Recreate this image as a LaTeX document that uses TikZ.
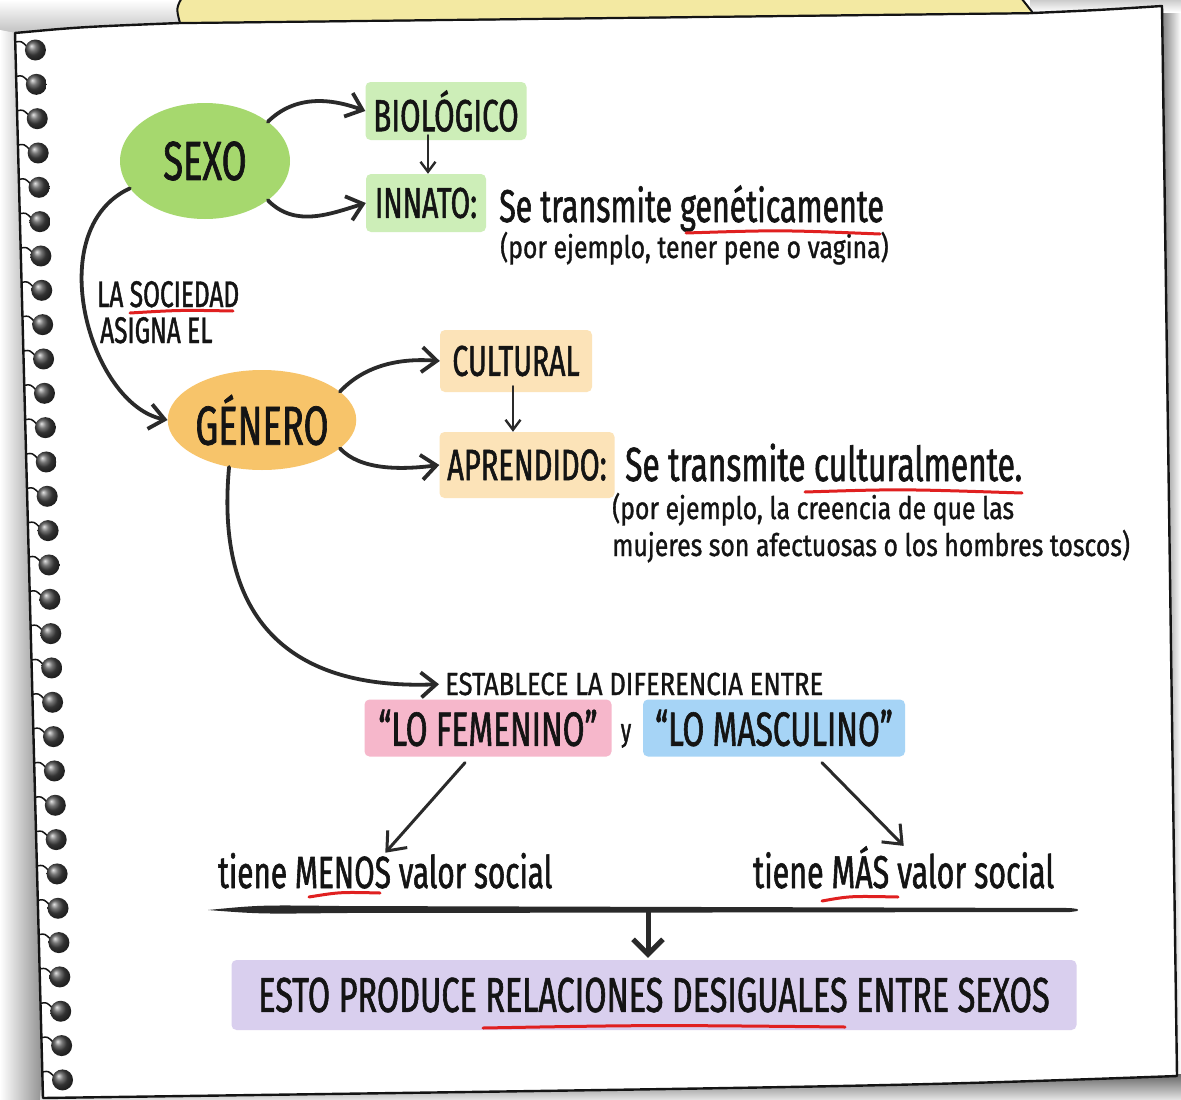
\documentclass[tikz,border=0pt]{standalone}
\usepackage{fontspec}
\newfontfamily\hand[FakeStretch=0.66,FakeBold=1.2]{Fira Sans}
\newfontfamily\handw[FakeStretch=0.8,FakeBold=1]{Fira Sans}
\usetikzlibrary{arrows.meta,shapes.geometric,calc}
\definecolor{ink}{HTML}{141414}
\definecolor{arrowc}{HTML}{2A2A2A}
\definecolor{sexgreen}{HTML}{A6D86E}
\definecolor{lgreen}{HTML}{CDEEB8}
\definecolor{genorange}{HTML}{F7C46A}
\definecolor{lorange}{HTML}{FCE3B8}
\definecolor{pinkc}{HTML}{F6B7CB}
\definecolor{bluec}{HTML}{A6D4F6}
\definecolor{purplec}{HTML}{D9CFEE}
\definecolor{tabyellow}{HTML}{F3E9A2}
\definecolor{redc}{HTML}{E02020}
\newcommand\fsz[1]{\fontsize{#1}{#1}\selectfont}
\tikzset{
  ellnode/.style={ellipse, inner sep=0pt, text=ink, font=\hand},
  boxnode/.style={rectangle, rounded corners=5pt, inner sep=0pt, text=ink, font=\hand},
  txt/.style={inner sep=0pt, text=ink, font=\hand, anchor=base west},
  txtw/.style={inner sep=0pt, text=ink, font=\handw, anchor=base west},
  curvearr/.style={draw=arrowc, line width=3.8pt, -{Straight Barb[length=15pt,width=25pt]}},
  thinarr/.style={draw=arrowc, line width=2.4pt, -{Straight Barb[length=10pt,width=15pt]}},
  diagarr/.style={draw=arrowc, line width=3pt, -{Straight Barb[length=16pt,width=26pt]}},
  bigarr/.style={draw=arrowc, line width=5pt, -{Straight Barb[length=15pt,width=30pt]}},
  redline/.style={draw=redc, line width=3pt, line cap=round},
}
\begin{document}
\begin{tikzpicture}[x=1pt,y=-1pt, line cap=round, line join=round]
\useasboundingbox (0,0) rectangle (1181,1100);
\clip (0,0) rectangle (1181,1100);
\fill[white] (0,0) rectangle (1181,1100);
% shadows
\shade[top color=white, bottom color=black!25] (0,0) rectangle (182,34);
\shade[left color=white, right color=black!45] (0,30) -- (16,33) -- (44,1100) -- (0,1100) -- cycle;
\shade[left color=black!55, right color=white] (1160,0) -- (1181,0) -- (1181,1080) -- (1176,1080) -- cycle;
\shade[top color=black!20, bottom color=white] (1030,0) rectangle (1181,12);
\shade[top color=black!60, bottom color=black!10] (40,1090) -- (1181,1074) -- (1181,1100) -- (40,1100) -- cycle;
% paper
\filldraw[fill=white, draw=ink, line width=2.4pt] (15,33) .. controls (80,27) .. (180,23) -- (1033,13) .. controls (1100,10) .. (1162,6) -- (1177,1076) .. controls (900,1086) .. (43,1098) -- cycle;
% tab
\filldraw[fill=tabyellow, draw=ink, line width=2pt] (184,-6) .. controls (176,8) .. (180,23) -- (1033,13) -- (1018,-6) -- cycle;
% coils
\foreach \i in {0,...,30}{
  \pgfmathsetmacro\cy{50+\i*34.33}
  \pgfmathsetmacro\cx{15+(\cy-33)/1065*28}
  \draw[ink, line width=1.5pt] (\cx,\cy-8) .. controls (\cx+6,\cy-9) .. (\cx+12,\cy-3);
  \shade[ball color=black!72] (\cx+20,\cy) circle (10.5);
}
% nodes
\node[ellnode, fill=sexgreen, minimum width=170pt, minimum height=116pt] (sexo) at (205,161) {\fsz{55}SEXO};
\node[boxnode, fill=lgreen, minimum width=161pt, minimum height=58pt] (bio) at (446,111) {\fsz{45}BIOLÓGICO};
\node[boxnode, fill=lgreen, minimum width=120pt, minimum height=58pt] (innato) at (426,203) {\fsz{43}INNATO:};
\node[txt] (gentext) at (499,222) {\fsz{46}Se transmite genéticamente};
\node[txtw] (genex) at (500,258) {\fsz{31}(por ejemplo, tener pene o vagina)};
\node[txt] (soc) at (97,307) {\fsz{37}LA SOCIEDAD};
\node[txt] (asig) at (100,343) {\fsz{37}ASIGNA EL};
\node[ellnode, fill=genorange, minimum width=156pt, minimum height=100pt] (gen) at (262,420) {\fsz{55}GÉNERO};
\node[boxnode, fill=lorange, minimum width=152pt, minimum height=62pt] (cult) at (516,361) {\fsz{43}CULTURAL};
\node[boxnode, fill=lorange, minimum width=175pt, minimum height=66pt] (apr) at (527,465) {\fsz{44}APRENDIDO:};
\node[txt] (culttext) at (625,481) {\fsz{48}Se transmite culturalmente.};
\node[txtw] (cultex1) at (612,519) {\fsz{31}(por ejemplo, la creencia de que las};
\node[txtw] (cultex2) at (612,556) {\fsz{31}mujeres son afectuosas o los hombres toscos)};
\node[txtw] (estab) at (445,695) {\fsz{32}ESTABLECE LA DIFERENCIA ENTRE};
\node[boxnode, fill=pinkc, minimum width=247pt, minimum height=57pt] (fem) at (488,728) {\fsz{48}“LO FEMENINO”};
\node[txt, anchor=base] (ylab) at (626,741) {\fsz{32}y};
\node[boxnode, fill=bluec, minimum width=262pt, minimum height=57pt] (masc) at (774,728) {\fsz{48}“LO MASCULINO”};
\node[txt] (menos) at (218,888) {\fsz{45}tiene MENOS valor social};
\node[txt] (mas) at (753,888) {\fsz{46}tiene MÁS valor social};
\node[boxnode, fill=purplec, minimum width=845pt, minimum height=70pt] (esto) at (654,995) {\fsz{49}ESTO PRODUCE RELACIONES DESIGUALES ENTRE SEXOS};
% connectors
\draw[curvearr] (sexo.32) .. controls (295,95) and (330,98) .. (bio.west);
\draw[curvearr] (sexo.-32) .. controls (295,228) and (330,214) .. (innato.west);
\draw[thinarr] ($(innato.north |- bio.south)+(2,-5)$) -- ($(innato.north)+(2,0)$);
\draw[curvearr] (sexo.200) .. controls (40,230) and (90,405) .. (gen.west);
\draw[curvearr] (gen.20) .. controls (365,365) and (400,358) .. (cult.west);
\draw[curvearr] (gen.-20) .. controls (360,470) and (400,470) .. (apr.west);
\draw[thinarr] ($(cult.south)+(-3,-6)$) -- ($(apr.north)+(-14,0)$);
\draw[curvearr, shorten >=6pt] (gen.235) .. controls (215,620) and (290,690) .. (estab.west);
\draw[diagarr] ($(fem.south)+(-23,6)$) -- (menos.north);
\draw[diagarr] ($(masc.south)+(48,6)$) -- (mas.north);
% bar
\coordinate (barL) at (208,910);
\coordinate (barR) at (1078,910);
\fill[arrowc] (barL) .. controls (260,905) .. (340,906) -- (1070,908) .. controls (1078,909) .. (barR) .. controls (1078,911) .. (1070,912) -- (340,913) .. controls (260,914) .. (barL) -- cycle;
\coordinate (barmid) at (648,911);
\draw[bigarr] (barmid) -- ($(barmid |- esto.north)+(0,-2)$);
% red underlines
\draw[redline] (130,313) .. controls (180,310) .. (233,311);
\draw[redline] (686,233) .. controls (780,230) .. (880,234);
\draw[redline] (805,492) .. controls (900,489) .. (1022,493);
\draw[redline] (309,897) .. controls (340,892) .. (380,893);
\draw[redline] (822,901) .. controls (850,896) .. (898,897);
\draw[redline] (483,1028) .. controls (650,1025) .. (845,1027);
\end{tikzpicture}
\end{document}
